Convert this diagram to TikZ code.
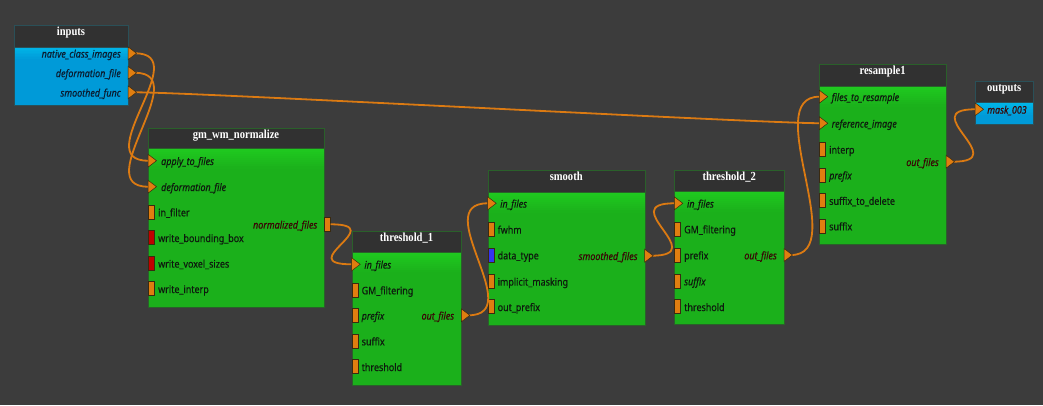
\documentclass[tikz,border=0pt]{standalone}
\usepackage{fontspec}
\setmainfont{Noto Sans}[FakeStretch=0.86,FakeBold=0.3]
\newfontfamily\ttlfont{Liberation Serif}[FakeStretch=0.86]
\definecolor{bgc}{HTML}{3C3C3C}
\definecolor{ttlgray}{HTML}{313131}
\definecolor{gbody}{HTML}{1BB01B}
\definecolor{ghi}{HTML}{1FCA1F}
\definecolor{bbody}{HTML}{009AD8}
\definecolor{bhi}{HTML}{00B6E8}
\definecolor{gedge}{HTML}{2A602A}
\definecolor{bedge}{HTML}{2A5058}
\definecolor{porange}{HTML}{E07E10}
\definecolor{pred}{HTML}{C00000}
\definecolor{pblue}{HTML}{3434F0}
\definecolor{pedge}{HTML}{3A2A10}
\definecolor{wirec}{HTML}{DB7A12}
\definecolor{lblc}{HTML}{0E1A0E}
\definecolor{outc}{HTML}{3A0606}
\definecolor{inlblc}{HTML}{0A1C30}
\begin{document}
\begin{tikzpicture}[x=1pt,y=-1pt,
  gbox/.style={draw=gedge, line width=0.7pt, fill=gbody, inner sep=0pt, anchor=north west,
    path picture={\foreach \k in {0,...,9}{\pgfmathsetmacro{\mixv}{100-10*\k}
      \fill[ghi!\mixv!gbody] ([yshift=-2*\k pt]path picture bounding box.north west) rectangle ([yshift=-2*\k pt-2.2pt]path picture bounding box.north east);}}},
  bbox/.style={draw=bedge, line width=0.7pt, fill=bbody, inner sep=0pt, anchor=north west,
    path picture={\foreach \k in {0,...,7}{\pgfmathsetmacro{\mixv}{100-12.5*\k}
      \fill[bhi!\mixv!bbody] ([yshift=-1.5*\k pt]path picture bounding box.north west) rectangle ([yshift=-1.5*\k pt-1.7pt]path picture bounding box.north east);}}},
  tbar/.style={draw=#1, line width=0.7pt, fill=ttlgray, inner sep=0pt, anchor=north west, minimum height=21.5pt},
  ttxt/.style={font=\ttlfont\bfseries\fontsize{12.3}{14}\selectfont, text=white, anchor=base, inner sep=0pt},
  lbl/.style={font=\fontsize{10.4}{12}\selectfont, text=lblc, anchor=base west, inner sep=0pt},
  lbli/.style={font=\fontsize{10.4}{12}\selectfont\itshape, text=lblc, anchor=base west, inner sep=0pt},
  olbl/.style={font=\fontsize{10.4}{12}\selectfont\itshape, text=outc, anchor=base east, inner sep=0pt},
  ilbl/.style={font=\fontsize{10.4}{12}\selectfont\itshape, text=inlblc, anchor=base east, inner sep=0pt},
  rport/.style={draw=pedge, line width=0.5pt, fill=#1, minimum width=6pt, minimum height=14pt, inner sep=0pt, anchor=west},
  rport/.default=porange,
  tri/.pic={\draw[draw=pedge, line width=0.5pt, fill=porange] (0,-6.5) -- (8.5,0) -- (0,6.5) -- cycle;},
  wire/.style={draw=wirec, line width=1.8pt},
]
\fill[bgc] (0,0) rectangle (1043,405);
\useasboundingbox (0,0) rectangle (1043,405);

% ---------- inputs ----------
\node[tbar=bedge, minimum width=114pt] (inT) at (14,25) {};
\node[bbox, minimum width=114pt, minimum height=58pt] (inB) at (14,46.5) {};
\node[ttxt] (inTt) at (71,35.3) {inputs};
\node[ilbl] (inL1) at (121,57.6) {native\_class\_images};
\node[ilbl] (inL2) at (121,77.1) {deformation\_file};
\node[ilbl] (inL3) at (121,96.6) {smoothed\_func};
\coordinate (inP1) at (128,53.3);
\coordinate (inP2) at (128,72.8);
\coordinate (inP3) at (128,92.3);

% ---------- gm_wm_normalize ----------
\node[tbar=gedge, minimum width=176pt] (gmT) at (148,127.7) {};
\node[gbox, minimum width=176pt, minimum height=158.7pt] (gmB) at (148,148) {};
\node[ttxt] (gmTt) at (236,138) {gm\_wm\_normalize};
\coordinate (gmP1) at (148,160.7);
\coordinate (gmP2) at (148,186.7);
\node[lbli] (gmL1) at (161,165) {apply\_to\_files};
\node[lbli] (gmL2) at (161,191) {deformation\_file};
\node[rport] (gmR3) at (148,212) {};
\node[rport=pred] (gmR4) at (148,237.7) {};
\node[rport=pred] (gmR5) at (148,263.3) {};
\node[rport] (gmR6) at (148,288.7) {};
\node[lbl] (gmL3) at (158,216.3) {in\_filter};
\node[lbl] (gmL4) at (158,242) {write\_bounding\_box};
\node[lbl] (gmL5) at (158,267.6) {write\_voxel\_sizes};
\node[lbl] (gmL6) at (158,293) {write\_interp};
\node[rport] (gmO) at (324,224.3) {};
\node[olbl] (gmOL) at (317.5,228.6) {normalized\_files};

% ---------- threshold_1 ----------
\node[tbar=gedge, minimum width=109.6pt] (t1T) at (351.7,230.7) {};
\node[gbox, minimum width=109.6pt, minimum height=133.3pt] (t1B) at (351.7,251.7) {};
\node[ttxt] (t1Tt) at (406.5,241) {threshold\_1};
\coordinate (t1P1) at (351.7,264.3);
\node[lbli] (t1L1) at (364.2,268.6) {in\_files};
\node[rport] (t1R2) at (351.7,290) {};
\node[rport] (t1R3) at (351.7,315.3) {};
\node[rport] (t1R4) at (351.7,341) {};
\node[rport] (t1R5) at (351.7,366.7) {};
\node[lbl] (t1L2) at (361.5,294.3) {GM\_filtering};
\node[lbli] (t1L3) at (361.5,319.6) {prefix};
\node[lbl] (t1L4) at (361.5,345.3) {suffix};
\node[lbl] (t1L5) at (361.5,371) {threshold};
\coordinate (t1O) at (461.3,315.3);
\node[olbl] (t1OL) at (454.3,319.6) {out\_files};

% ---------- smooth ----------
\node[tbar=gedge, minimum width=157pt] (smT) at (487.7,170.3) {};
\node[gbox, minimum width=157pt, minimum height=133pt] (smB) at (487.7,192) {};
\node[ttxt] (smTt) at (566.2,180.6) {smooth};
\coordinate (smP1) at (487.7,203.3);
\node[lbli] (smL1) at (500,207.6) {in\_files};
\node[rport] (smR2) at (487.7,229.3) {};
\node[rport=pblue] (smR3) at (487.7,255) {};
\node[rport] (smR4) at (487.7,281.3) {};
\node[rport] (smR5) at (487.7,306.7) {};
\node[lbl] (smL2) at (497.5,233.6) {fwhm};
\node[lbl] (smL3) at (497.5,259.3) {data\_type};
\node[lbl] (smL4) at (497.5,285.6) {implicit\_masking};
\node[lbl] (smL5) at (497.5,311) {out\_prefix};
\coordinate (smO) at (644.7,255.7);
\node[olbl] (smOL) at (637.7,260) {smoothed\_files};

% ---------- threshold_2 ----------
\node[tbar=gedge, minimum width=109.7pt] (t2T) at (674.3,169.7) {};
\node[gbox, minimum width=109.7pt, minimum height=133.3pt] (t2B) at (674.3,191) {};
\node[ttxt] (t2Tt) at (729.2,180) {threshold\_2};
\coordinate (t2P1) at (674.3,203.3);
\node[lbli] (t2L1) at (686.8,207.6) {in\_files};
\node[rport] (t2R2) at (674.3,229) {};
\node[rport] (t2R3) at (674.3,255) {};
\node[rport] (t2R4) at (674.3,281) {};
\node[rport] (t2R5) at (674.3,306.7) {};
\node[lbl] (t2L2) at (684,233.3) {GM\_filtering};
\node[lbl] (t2L3) at (684,259.3) {prefix};
\node[lbli] (t2L4) at (684,285.3) {suffix};
\node[lbl] (t2L5) at (684,311) {threshold};
\coordinate (t2O) at (784,255);
\node[olbl] (t2OL) at (777,259.3) {out\_files};

% ---------- resample1 ----------
\node[tbar=gedge, minimum width=126.7pt] (rsT) at (819.3,64.3) {};
\node[gbox, minimum width=126.7pt, minimum height=158pt] (rsB) at (819.3,86) {};
\node[ttxt] (rsTt) at (882.6,74.6) {resample1};
\coordinate (rsP1) at (819.3,96.7);
\coordinate (rsP2) at (819.3,123.2);
\node[lbli] (rsL1) at (831.5,101) {files\_to\_resample};
\node[lbli] (rsL2) at (831.5,127.5) {reference\_image};
\node[rport] (rsR3) at (819.3,149.3) {};
\node[rport] (rsR4) at (819.3,175) {};
\node[rport] (rsR5) at (819.3,200.5) {};
\node[rport] (rsR6) at (819.3,226) {};
\node[lbl] (rsL3) at (829,153.6) {interp};
\node[lbli] (rsL4) at (829,179.3) {prefix};
\node[lbl] (rsL5) at (829,204.8) {suffix\_to\_delete};
\node[lbl] (rsL6) at (829,230.3) {suffix};
\coordinate (rsO) at (946,161.7);
\node[olbl] (rsOL) at (939,166) {out\_files};

% ---------- outputs ----------
\node[tbar=bedge, minimum width=58.3pt] (ouT) at (975,80.7) {};
\node[bbox, minimum width=58.3pt, minimum height=22pt] (ouB) at (975,102.2) {};
\node[ttxt] (ouTt) at (1004.2,91) {outputs};
\coordinate (ouP1) at (975,109.3);
\node[olbl, anchor=base west] (ouL1) at (987,113.6) {mask\_003};

% ---------- wires ----------
\draw[wire] ([xshift=7pt]inP1) .. controls +(60,0) and +(-60,0) .. (gmP1);
\draw[wire] ([xshift=7pt]inP2) .. controls +(60,0) and +(-60,0) .. (gmP2);
\draw[wire] ([xshift=7pt]inP3) .. controls +(60,0) and +(-60,0) .. (rsP2);
\draw[wire] (gmO.east) .. controls +(60,0) and +(-60,0) .. (t1P1);
\draw[wire] ([xshift=7pt]t1O) .. controls +(60,0) and +(-60,0) .. (smP1);
\draw[wire] ([xshift=7pt]smO) .. controls +(60,0) and +(-60,0) .. (t2P1);
\draw[wire] ([xshift=7pt]t2O) .. controls +(60,0) and +(-60,0) .. (rsP1);
\draw[wire] ([xshift=7pt]rsO) .. controls +(60,0) and +(-60,0) .. (ouP1);

% ---------- triangle ports ----------
\pic at (inP1) {tri};
\pic at (inP2) {tri};
\pic at (inP3) {tri};
\pic at (gmP1) {tri};
\pic at (gmP2) {tri};
\pic at (t1P1) {tri};
\pic at (t1O) {tri};
\pic at (smP1) {tri};
\pic at (smO) {tri};
\pic at (t2P1) {tri};
\pic at (t2O) {tri};
\pic at (rsP1) {tri};
\pic at (rsP2) {tri};
\pic at (rsO) {tri};
\pic at (ouP1) {tri};
\end{tikzpicture}
\end{document}
